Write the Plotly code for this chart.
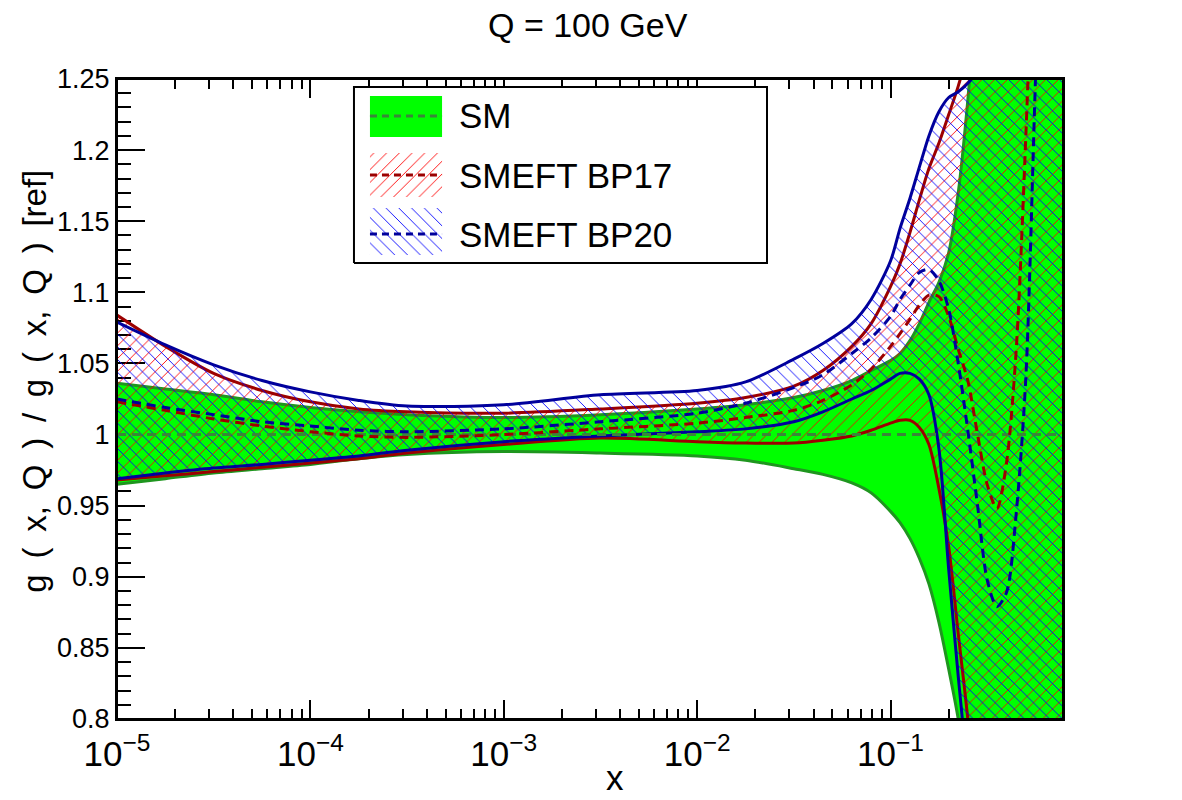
import plotly.graph_objects as go

# ---------------- data ----------------
x = [1e-5, 1.78e-5, 3.16e-5, 5.62e-5, 1e-4, 1.78e-4, 3.16e-4, 1e-3, 3.16e-3, 1e-2,
     1.78e-2, 3.16e-2, 4.47e-2, 6.31e-2, 7.94e-2, 0.1, 0.112, 0.126, 0.141, 0.158,
     0.178, 0.2, 0.224, 0.251, 0.282, 0.316, 0.355, 0.398, 0.447, 0.501,
     0.562, 0.631, 0.708, 0.794]

sm_up = [1.036, 1.032, 1.028, 1.023, 1.019, 1.016, 1.014, 1.012, 1.014, 1.018,
         1.021, 1.026, 1.031, 1.038, 1.045, 1.052, 1.057, 1.066, 1.078, 1.093,
         1.107, 1.128, 1.17, 1.235, 1.32, 1.42, 1.52, 1.62, 1.72, 1.82,
         1.92, 2.02, 2.12, 2.22]
sm_lo = [0.965, 0.969, 0.973, 0.976, 0.979, 0.983, 0.986, 0.988, 0.987, 0.985,
         0.982, 0.976, 0.972, 0.966, 0.959, 0.946, 0.938, 0.927, 0.913, 0.895,
         0.868, 0.835, 0.80, 0.75, 0.69, 0.63, 0.57, 0.51, 0.45, 0.39,
         0.33, 0.27, 0.21, 0.15]
sm_c_x = [1e-5, 0.794]
sm_c = [1.0, 1.0]

bp17_up = [1.084, 1.062, 1.043, 1.031, 1.023, 1.018, 1.016, 1.015, 1.018, 1.022,
           1.026, 1.034, 1.045, 1.062, 1.078, 1.104, 1.120, 1.142, 1.165, 1.187,
           1.205, 1.225, 1.245, 1.27, 1.31, 1.36, 1.42, 1.48, 1.54, 1.60,
           1.66, 1.72, 1.78, 1.84]
bp17_lo = [0.968, 0.971, 0.974, 0.977, 0.980, 0.983, 0.987, 0.993, 0.9975, 0.995,
           0.994, 0.994, 0.996, 0.999, 1.003, 1.008, 1.010, 1.010, 1.005, 0.993,
           0.962, 0.921, 0.860, 0.800, 0.72, 0.64, 0.56, 0.48, 0.40, 0.32,
           0.24, 0.16, 0.08, 0.0]
bp17_c = [1.023, 1.017, 1.011, 1.006, 1.002, 0.999, 0.998, 1.000, 1.004, 1.008,
          1.012, 1.017, 1.024, 1.035, 1.046, 1.062, 1.071, 1.081, 1.091, 1.098,
          1.097, 1.083, 1.060, 1.038, 1.000, 0.965, 0.948, 0.980, 1.060, 1.210,
          1.40, 1.60, 1.80, 2.00]

bp20_up = [1.079, 1.063, 1.049, 1.038, 1.030, 1.024, 1.020, 1.021, 1.028, 1.031,
           1.037, 1.053, 1.064, 1.078, 1.095, 1.122, 1.145, 1.166, 1.188, 1.210,
           1.227, 1.237, 1.241, 1.247, 1.256, 1.29, 1.34, 1.40, 1.46, 1.52,
           1.58, 1.64, 1.70, 1.76]
bp20_lo = [0.969, 0.973, 0.9765, 0.979, 0.982, 0.985, 0.989, 0.995, 0.999, 1.002,
           1.004, 1.009, 1.016, 1.025, 1.031, 1.039, 1.043, 1.043, 1.039, 1.028,
           0.990, 0.905, 0.830, 0.760, 0.68, 0.60, 0.52, 0.44, 0.36, 0.28,
           0.20, 0.12, 0.04, -0.04]
bp20_c = [1.025, 1.019, 1.014, 1.009, 1.006, 1.003, 1.002, 1.004, 1.009, 1.015,
          1.022, 1.033, 1.042, 1.057, 1.068, 1.083, 1.095, 1.105, 1.114, 1.116,
          1.108, 1.088, 1.050, 1.003, 0.950, 0.898, 0.879, 0.889, 0.945, 1.040,
          1.25, 1.45, 1.65, 1.85]

labels = ["SM", "SMEFT BP17", "SMEFT BP20"]
title_text = "Q = 100 GeV"
x_title = "x"
# ROOT renders this title with slightly wider spacing; nbsp + thin space mimic it
y_title_words = ["g", "(", "x,", "Q", ")", "/", "g", "(", "x,", "Q", ")", "[ref]"]
y_title = "\u00a0\u2009".join(y_title_words)

# ---------------- styles ----------------
FONT = "Liberation Sans, Arial, Helvetica, sans-serif"
GREEN_FILL = "#00ff00"
SM_EDGE = "#1f961f"
SM_DASH = "#3a863a"
RED_EDGE = "#9c0000"
RED_HATCH = "#ff0000"
BLUE_EDGE = "#00009c"
BLUE_HATCH = "#0000ff"
LW = 3
DASH = "9px,6px"
SMOOTH = 0.8

fig = go.Figure()


def line_trace(xs, ys, color, dash=None, fill=None, fillcolor=None, pattern=None):
    kw = dict(x=xs, y=ys, mode="lines",
              line=dict(color=color, width=LW, shape="spline", smoothing=SMOOTH,
                        dash=dash if dash else "solid"),
              showlegend=False, hoverinfo="skip")
    if fill:
        kw["fill"] = fill
        kw["fillcolor"] = fillcolor
        if pattern:
            kw["fillpattern"] = pattern
    return go.Scatter(**kw)


def hatch(shape, color):
    return dict(shape=shape, fgcolor=color, bgcolor="rgba(0,0,0,0)",
                size=9, solidity=0.1, fillmode="replace")


# SM band
fig.add_trace(line_trace(x, sm_lo, SM_EDGE))
fig.add_trace(line_trace(x, sm_up, SM_EDGE, fill="tonexty", fillcolor=GREEN_FILL))
# BP17 band
fig.add_trace(line_trace(x, bp17_lo, RED_EDGE))
fig.add_trace(line_trace(x, bp17_up, RED_EDGE, fill="tonexty",
                         fillcolor="rgba(0,0,0,0)", pattern=hatch("/", RED_HATCH)))
# BP20 band
fig.add_trace(line_trace(x, bp20_lo, BLUE_EDGE))
fig.add_trace(line_trace(x, bp20_up, BLUE_EDGE, fill="tonexty",
                         fillcolor="rgba(0,0,0,0)", pattern=hatch("\\", BLUE_HATCH)))
# central values
fig.add_trace(go.Scatter(x=sm_c_x, y=sm_c, mode="lines",
                         line=dict(color=SM_DASH, width=LW, dash=DASH),
                         showlegend=False, hoverinfo="skip"))
fig.add_trace(line_trace(x, bp17_c, RED_EDGE, dash=DASH))
fig.add_trace(line_trace(x, bp20_c, BLUE_EDGE, dash=DASH))

# ---------------- legend (drawn in paper-like overlay axes) ----------------
LX0, LX1, LY0, LY1 = 0.2505, 0.6871, 0.7125, 0.9875
SX0, SX1 = 0.2674, 0.3436
TX = 0.3594
rows = [  # (box y0, box y1, line y)
    (0.9094, 0.9734, 0.9422),
    (0.8156, 0.8844, 0.8500),
    (0.7250, 0.7984, 0.7578),
]


def ov(**kw):
    return go.Scatter(xaxis="x2", yaxis="y2", showlegend=False, hoverinfo="skip", **kw)


fig.add_trace(ov(x=[LX0, LX1, LX1, LX0, LX0], y=[LY0, LY0, LY1, LY1, LY0],
                 mode="lines", fill="toself", fillcolor="white",
                 line=dict(color="black", width=2)))
sample_styles = [
    dict(fillcolor=GREEN_FILL, pattern=None, dash_color=SM_DASH),
    dict(fillcolor="rgba(0,0,0,0)", pattern=hatch("/", RED_HATCH), dash_color=RED_EDGE),
    dict(fillcolor="rgba(0,0,0,0)", pattern=hatch("\\", BLUE_HATCH), dash_color=BLUE_EDGE),
]
for (by0, by1, ly), st, lab in zip(rows, sample_styles, labels):
    kw = dict(x=[SX0, SX1, SX1, SX0, SX0], y=[by0, by0, by1, by1, by0],
              mode="lines", fill="toself", fillcolor=st["fillcolor"],
              line=dict(width=0, color="rgba(0,0,0,0)"))
    if st["pattern"]:
        kw["fillpattern"] = st["pattern"]
    fig.add_trace(ov(**kw))
    fig.add_trace(ov(x=[SX0, SX1], y=[ly, ly], mode="lines",
                     line=dict(color=st["dash_color"], width=LW, dash="7px,5px")))
    fig.add_annotation(x=TX, y=ly, xref="paper", yref="paper", text=lab,
                       showarrow=False, xanchor="left", yanchor="middle",
                       font=dict(family=FONT, size=35, color="black"))

# ---------------- layout ----------------
fig.update_layout(
    width=1182, height=800,
    margin=dict(l=117, r=119, t=79, b=81),
    paper_bgcolor="white", plot_bgcolor="white",
    showlegend=False,
    font=dict(family=FONT, color="black"),
    xaxis=dict(type="log", range=[-5, -0.108], dtick=1,
               exponentformat="power", showexponent="all",
               showline=True, linecolor="black", linewidth=2, mirror="ticks",
               ticks="inside", ticklen=19, tickwidth=1.5, tickcolor="black",
               tickfont=dict(family=FONT, size=28, color="black"),
               ticklabelstandoff=4,
               showgrid=False, zeroline=False, layer="below traces",
               minor=dict(ticks="inside", ticklen=10, tickwidth=1.5,
                          tickcolor="black", dtick="D1", showgrid=False)),
    yaxis=dict(range=[0.8, 1.25], tick0=0.8, dtick=0.05,
               showline=True, linecolor="black", linewidth=2, mirror="ticks",
               ticks="inside", ticklen=28, tickwidth=1.5, tickcolor="black",
               tickfont=dict(family=FONT, size=27, color="black"),
               showgrid=False, zeroline=False, layer="below traces",
               minor=dict(ticks="inside", ticklen=14, tickwidth=1.5,
                          tickcolor="black", dtick=0.01, showgrid=False)),
    xaxis2=dict(overlaying="x", range=[0, 1], visible=False, fixedrange=True),
    yaxis2=dict(overlaying="y", range=[0, 1], visible=False, fixedrange=True),
    shapes=[dict(type="rect", xref="paper", yref="paper", x0=0, x1=1, y0=0, y1=1,
                 line=dict(color="black", width=2), layer="above")],
)

fig.add_annotation(x=0.498, y=1.085, xref="paper", yref="paper", text=title_text,
                   showarrow=False, xanchor="center", yanchor="middle",
                   font=dict(family=FONT, size=34, color="black"))
fig.add_annotation(x=0.5264, y=-0.125, xref="paper", yref="paper", text=x_title,
                   showarrow=False, xanchor="center", yanchor="bottom",
                   font=dict(family=FONT, size=35, color="black"))
fig.add_annotation(x=-0.0875, y=0.5275, xref="paper", yref="paper", text=y_title,
                   showarrow=False, textangle=-90, xanchor="center", yanchor="middle",
                   font=dict(family=FONT, size=33, color="black"))

fig.write_html("out.html")
